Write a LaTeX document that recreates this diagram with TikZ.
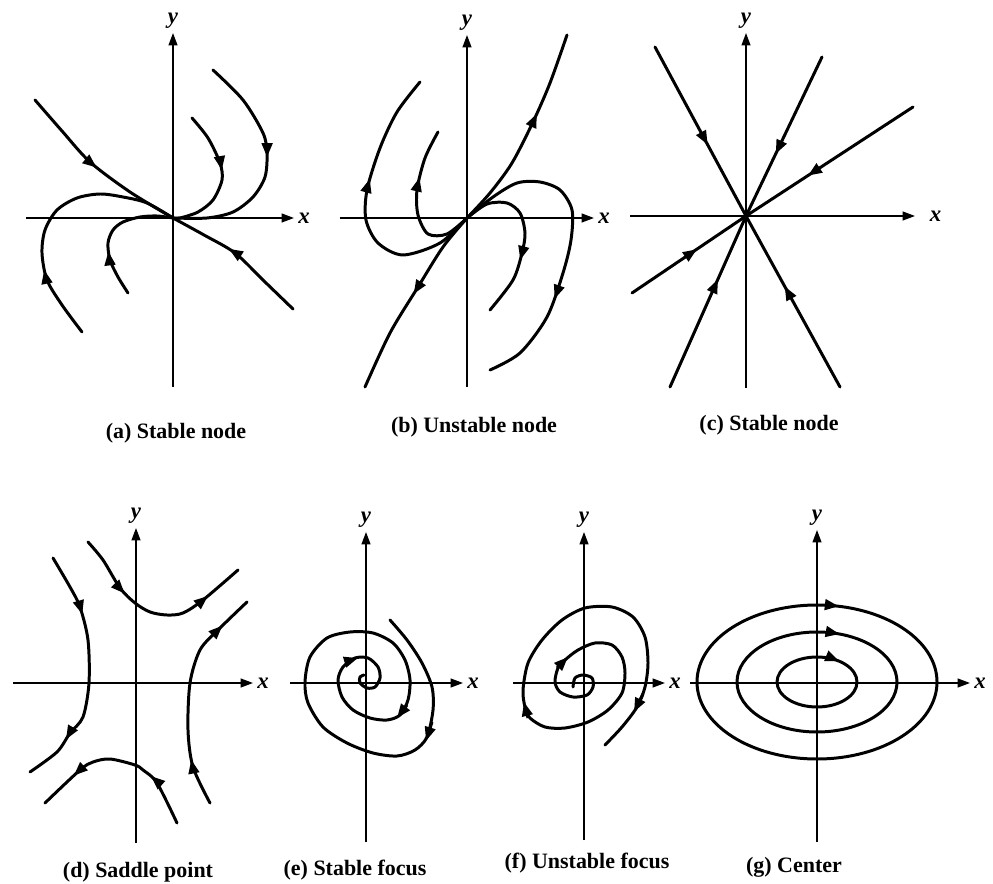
\documentclass[tikz,border=0pt]{standalone}
\usepackage{fontspec}
\setmainfont{Liberation Serif}
\usetikzlibrary{arrows.meta, decorations.markings}

\begin{document}
\begin{tikzpicture}[x=0.02cm, y=-0.02cm,
    traj/.style={line width=1.7pt, line join=round, line cap=round},
    axis/.style={line width=0.9pt, -{Triangle[length=7pt, width=5pt]}},
    tip/.style={line width=1.7pt, -{Triangle[length=8pt, width=6pt]}},
    lab/.style={font=\bfseries\itshape\fontsize{13}{15}\selectfont, inner sep=2pt},
    captxt/.style={font=\bfseries\fontsize{12.5}{14}\selectfont},
    flow/.style={postaction={decorate}, decoration={markings,
        mark=at position #1 with {\arrow{Triangle[length=8pt, width=6pt]}}}},
    flowtwo/.style 2 args={postaction={decorate}, decoration={markings,
        mark=at position #1 with {\arrow{Triangle[length=8pt, width=6pt]}},
        mark=at position #2 with {\arrow{Triangle[length=8pt, width=6pt]}}}},
]
\useasboundingbox (0,0) rectangle (993,884);

% (a) stable node
\coordinate (Oa) at (173,218);
\draw[axis] (26,218) -- (294,218) node[lab, right] (xa) {x};
\draw[axis] (173,387) -- (173,33) node[lab, above] (ya) {y};
\draw[traj, flow=0.5] plot[smooth] coordinates {(35,100) (62,131) (90,162) (130,192) (Oa)};
\draw[traj, flow=0.58] plot[smooth] coordinates {(293,309) (264,281) (235,253) (204,235) (Oa)};
\draw[traj, flow=0.44] plot[smooth] coordinates {(192,118) (208,138) (220,163) (222,180) (213,200) (198,212) (180,218) (Oa)};
\draw[traj, flow=0.45] plot[smooth] coordinates {(213,70) (243,100) (263,133) (267,153) (265,177) (253,197) (233,212) (207,218) (Oa)};
\draw[traj, flow=0.28] plot[smooth] coordinates {(82,332) (62,305) (47,280) (42,253) (45,230) (57,210) (77,198) (100,194) (123,197) (147,203) (Oa)};
\draw[traj, flow=0.35] plot[smooth] coordinates {(128,293) (118,277) (110,260) (108,243) (113,230) (123,222) (140,217) (157,216) (Oa)};
\node[captxt] (capa) at (176,433) {(a) Stable node};

% (b) unstable node
\coordinate (Ob) at (467,218);
\draw[axis] (340,218) -- (594,218) node[lab, right] (xb) {x};
\draw[axis] (467,387) -- (467,35) node[lab, above] (yb) {y};
\draw[traj, flow=0.6] plot[smooth] coordinates {(Ob) (490,193) (512,163) (533,122) (550,83) (567,35)};
\draw[traj, flow=0.47] plot[smooth] coordinates {(Ob) (443,247) (418,287) (390,333) (365,387)};
\draw[traj, flow=0.61] plot[smooth] coordinates {(Ob) (440,243) (403,255) (378,243) (366,220) (367,190) (380,148) (397,112) (420,82)};
\draw[traj, flow=0.68] plot[smooth] coordinates {(Ob) (447,234) (428,234) (418,215) (417,190) (425,158) (438,132)};
\draw[traj, flow=0.65] plot[smooth] coordinates {(Ob) (487,204) (507,203) (520,213) (525,233) (522,253) (513,280) (490,310)};
\draw[traj, flow=0.69] plot[smooth] coordinates {(Ob) (493,197) (517,183) (540,182) (560,190) (572,210) (571,240) (563,273) (547,317) (520,353) (490,370)};
\node[captxt] (capb) at (474,427) {(b) Unstable node};

% (c) stable node, star
\coordinate (Oc) at (746,216);
\draw[axis] (630,216) -- (915,216) node[lab, right=6pt] (xc) {x};
\draw[axis] (746,388) -- (746,33) node[lab, above] (yc) {y};
\draw[traj, flow=0.58] (655,47) -- (Oc);
\draw[traj, flow=0.61] (822,57) -- (Oc);
\draw[traj, flow=0.63] (913,107) -- (Oc);
\draw[traj, flow=0.57] (632,293) -- (Oc);
\draw[traj, flow=0.63] (670,387) -- (Oc);
\draw[traj, flow=0.59] (840,387) -- (Oc);
\node[captxt] (capc) at (769,425) {(c) Stable node};

% (d) saddle point
\coordinate (Od) at (136,683);
\draw[axis] (13,683) -- (253,683) node[lab, right] (xd) {x};
\draw[axis] (136,843) -- (136,528) node[lab, above] (yd) {y};
\draw[traj, flowtwo={0.32}{0.8}] plot[smooth] coordinates {(88,542) (103,560) (120,588) (135,603) (150,612) (167,615) (183,613) (203,600) (238,570)};
\draw[traj, flowtwo={0.3}{0.78}] plot[smooth] coordinates {(177,823) (157,783) (143,770) (135,765) (110,759) (93,762) (80,770) (45,803)};
\draw[traj, flowtwo={0.26}{0.8}] plot[smooth] coordinates {(53,558) (70,587) (80,607) (88,640) (89,683) (83,717) (70,733) (57,752) (30,772)};
\draw[traj, flowtwo={0.21}{0.85}] plot[smooth] coordinates {(210,803) (193,767) (188,730) (190,683) (200,650) (218,630) (247,602)};
\node[captxt] (capd) at (138,872) {(d) Saddle point};

% (e) stable focus
\draw[axis] (290,683) -- (463,683) node[lab, right] (xe) {x};
\draw[axis] (366,842) -- (366,532) node[lab, above] (ye) {y};
\draw[traj] plot[smooth] coordinates {(390,620) (407,640) (422,663) (432,687) (433,710) (427,737) (415,750) (397,756) (373,753) (347,743) (323,727) (308,703) (305,682) (310,657) (327,638) (350,632) (373,633) (393,643) (405,660) (410,680) (408,700) (400,715) (387,720) (370,718) (353,710) (342,697) (338,680) (343,667) (355,658) (368,658) (378,667) (380,678) (375,687) (367,688) (360,683) (360,677) (364,675)};
\draw[tip] (432,722) -- (426,741);
\draw[tip] (407,705) -- (397,718);
\draw[tip] (345,662) -- (358,658);
\node[captxt] (cape) at (355,870) {(e) Stable focus};

% (f) unstable focus
\draw[axis] (513,683) -- (665,683) node[lab, right] (xf) {x};
\draw[axis] (584,840) -- (584,532) node[lab, above] (yf) {y};
\draw[traj] plot[smooth] coordinates {(573,687) (575,678) (583,675) (592,678) (593,687) (587,695) (573,697) (560,692) (555,682) (558,668) (565,660) (578,650) (595,643) (612,645) (622,657) (625,673) (622,693) (608,710) (588,722) (565,728) (545,727) (530,718) (525,707) (523,690) (528,663) (542,640) (562,620) (585,608) (612,607) (633,617) (645,637) (648,663) (645,687) (637,707) (622,727) (605,745)};
\draw[tip] (557,668) -- (568,657);
\draw[tip] (528,718) -- (524,702);
\draw[tip] (643,694) -- (634,712);
\node[captxt] (capf) at (587,863) {(f) Unstable focus};

% (g) center
\coordinate (Og) at (817,682);
\draw[axis] (690,683) -- (970,683) node[lab, right] (xg) {x};
\draw[axis] (817,842) -- (817,530) node[lab, above] (yg) {y};
\draw[traj, flow=0.785] (Og) ellipse [x radius=120, y radius=77];
\draw[traj, flow=0.805] (Og) ellipse [x radius=80, y radius=50];
\draw[traj, flow=0.86] (Og) ellipse [x radius=40, y radius=25];
\node[captxt] (capg) at (794,867) {(g) Center};
\end{tikzpicture}
\end{document}
